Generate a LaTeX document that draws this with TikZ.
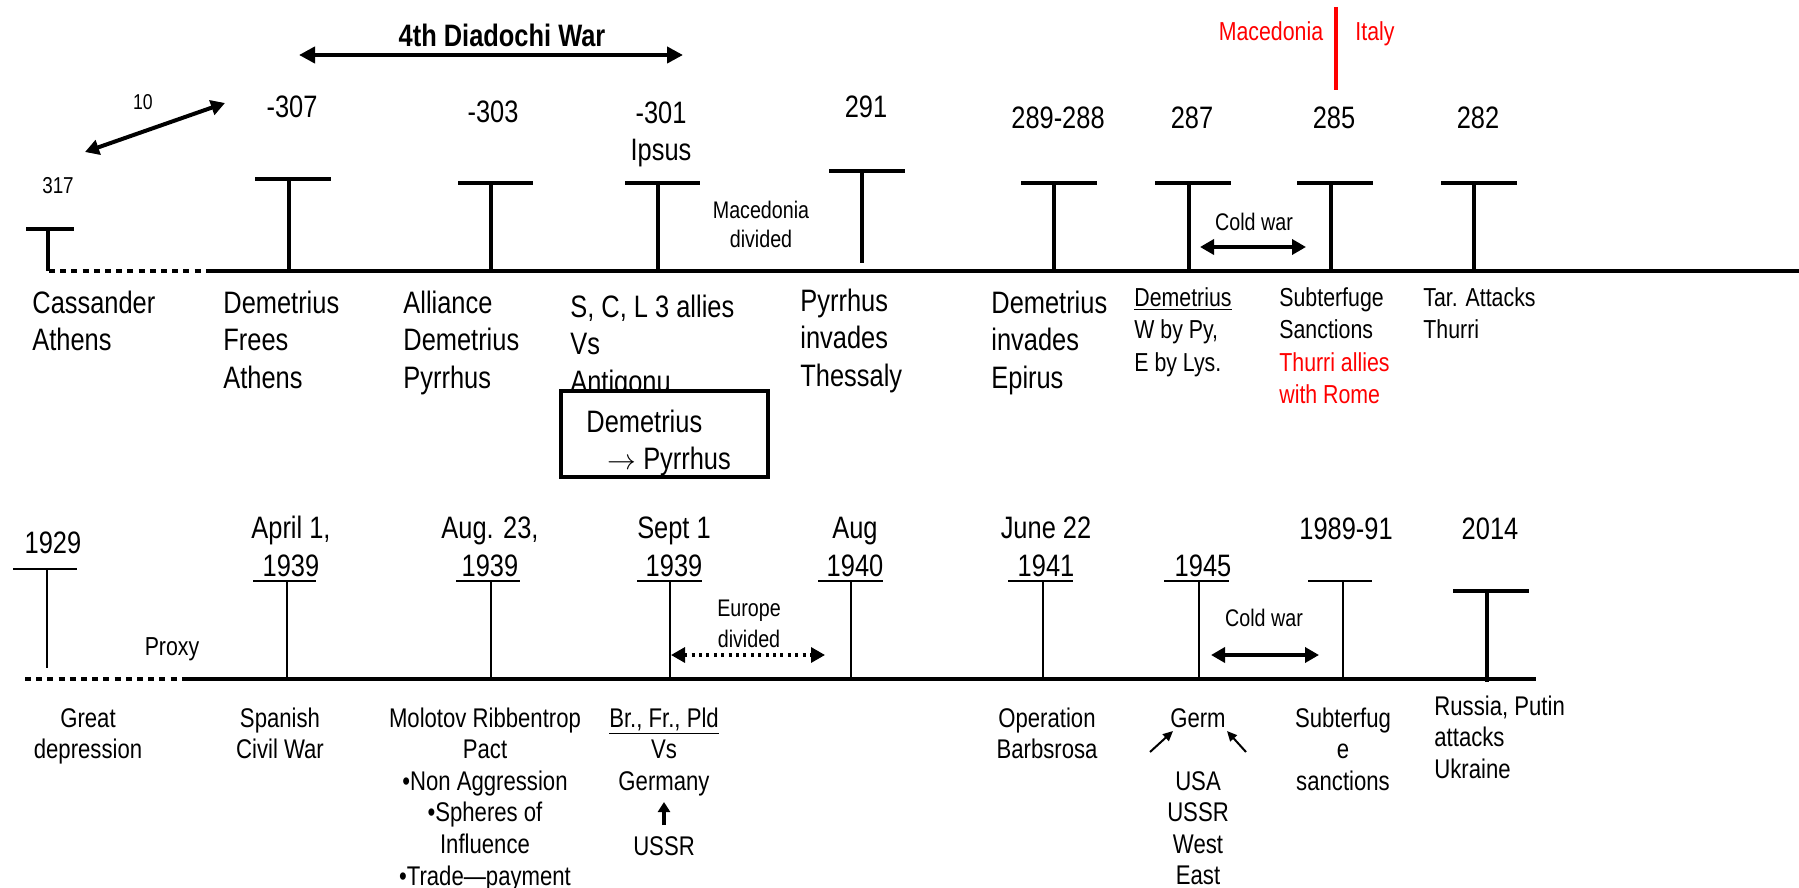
\documentclass[tikz,border=0pt]{standalone}
\usepackage{fontspec}
\setmainfont{Liberation Sans}[FakeStretch=0.82]
\usepackage{tikz}
\usetikzlibrary{arrows.meta}
\tikzset{tbar/.style = {line width = 2.4pt}}
\tikzset{thinbar/.style = {line width = 0.8pt}}
\tikzset{dotline/.style = {line width = 2.4pt, dash pattern = on 3pt off 2.6pt}}
\tikzset{bigtxt/.style = {inner sep = 0, font = \fontsize{15.5}{18.75}\selectfont}}
\tikzset{midtxt/.style = {inner sep = 0, font = \fontsize{13}{16.25}\selectfont}}
\tikzset{lowtxt/.style = {inner sep = 0, align = center, font = \fontsize{13.5}{15.8}\selectfont}}
\tikzset{smalltxt/.style = {inner sep = 0, align = center, font = \fontsize{12}{15.5}\selectfont}}
\tikzset{dbl/.style = {<->, >={Triangle[length = 7pt, width = 7.5pt]}, line width = 2pt}}
\tikzset{sgl/.style = {->, >={Triangle[length = 5pt, width = 4.5pt]}, line width = 1pt}}
\definecolor{mred}{rgb}{1, 0, 0}

\begin{document}
\begin{tikzpicture}[x = 0.5pt, y = -0.5pt]
    \useasboundingbox (0, 0) rectangle (1799, 888);

    \coordinate (topstart) at (49, 271);
    \coordinate (topmid) at (211, 271);
    \coordinate (topend) at (1799, 271);
    \draw [dotline] (topstart) -- (topmid);
    \draw [tbar] (topmid) -- (topend);
    \foreach \n/\x/\y/\l/\r/\b in {a/48/229/26/74/271, b/289/179/255/331/271,
        c/491/183/458/533/271, d/658/183/625/700/271, e/862/171/829/905/263,
        f/1054/183/1021/1097/271, g/1189/183/1155/1231/271,
        h/1331/183/1297/1373/271, i/1474/183/1441/1517/271} {
      \coordinate (cap\n) at (\x, \y);
      \coordinate (foot\n) at (\x, \b);
      \coordinate (capl\n) at (\l, \y);
      \coordinate (capr\n) at (\r, \y);
      \draw [tbar] (capl\n) -- (capr\n);
      \draw [tbar] (cap\n) -- (foot\n);
    }

    \node (diad) [bigtxt, font = \fontsize{15.5}{18.75}\selectfont\bfseries, anchor = base] at (502, 47) {4th Diadochi War};
    \coordinate (diadl) at (299, 55);
    \coordinate (diadr) at (683, 55);
    \draw [dbl, line width = 2.4pt, >={Triangle[length = 8pt, width = 8pt]}] (diadl) -- (diadr);
    \node (ten) [inner sep = 0, font = \fontsize{10.75}{13}\selectfont, anchor = base] at (143, 110) {10};
    \coordinate (tenl) at (85, 152);
    \coordinate (tenr) at (225, 103);
    \draw [dbl] (tenl) -- (tenr);
    \node (y317) [inner sep = 0, font = \fontsize{11.5}{14}\selectfont, anchor = base] at (58, 193) {317};

    \node (y307) [bigtxt, anchor = base] at (292, 118) {-307};
    \node (y303) [bigtxt, anchor = base] at (493, 123) {-303};
    \node (y301) [bigtxt, align = center, anchor = base] at (661, 161) {-301\\Ipsus};
    \node (y291) [bigtxt, anchor = base] at (866, 118) {291};
    \node (y289) [bigtxt, anchor = base] at (1058, 129) {289-288};
    \node (y287) [bigtxt, anchor = base] at (1192, 129) {287};
    \node (y285) [bigtxt, anchor = base] at (1334, 129) {285};
    \node (y282) [bigtxt, anchor = base] at (1478, 129) {282};

    \coordinate (redtop) at (1336, 7);
    \coordinate (redbot) at (1336, 90);
    \draw [mred, line width = 2.3pt] (redtop) -- (redbot);
    \node (macred) [midtxt, text = mred, anchor = base] at (1271, 41) {Macedonia};
    \node (italy) [midtxt, text = mred, anchor = base] at (1375, 41) {Italy};

    \node (macdiv) [smalltxt, font = \fontsize{12}{14.5}\selectfont, anchor = base] at (761, 247.5) {Macedonia\\divided};
    \node (coldtop) [smalltxt, anchor = base] at (1254, 230.5) {Cold war};
    \coordinate (coldl) at (1200, 247);
    \coordinate (coldr) at (1306, 247);
    \draw [dbl] (coldl) -- (coldr);

    \node (cass) [bigtxt, align = left, anchor = base west] at (32, 350.5) {Cassander\\Athens};
    \node (frees) [bigtxt, align = left, anchor = base west] at (223, 388) {Demetrius\\Frees\\Athens};
    \node (alli) [bigtxt, align = left, anchor = base west] at (403, 388) {Alliance\\Demetrius\\Pyrrhus};
    \node (three) [bigtxt, align = left, anchor = base west] at (570, 392) {S, C, L 3 allies\\Vs\\Antigonu};
    \node (thess) [bigtxt, align = left, anchor = base west] at (800, 386) {Pyrrhus\\invades\\Thessaly};
    \node (epir) [bigtxt, align = left, anchor = base west] at (991, 388) {Demetrius\\invades\\Epirus};
    \node (split) [midtxt, align = left, anchor = base west] at (1134, 371) {\underline{Demetrius}\\W by Py,\\E by Lys.};
    \node (subt) [midtxt, align = left, anchor = base west] at (1279, 403.5) {Subterfuge\\Sanctions\\\textcolor{mred}{Thurri allies}\\\textcolor{mred}{with Rome}};
    \node (tar) [midtxt, align = left, anchor = base west] at (1423, 338.5) {Tar. Attacks\\Thurri};

    \node (swap) [draw, line width = 2.2pt, fill = white, minimum width = 103.5pt, minimum height = 43pt, inner sep = 0] at (664.5, 434) {};
    \node (swaptxt) [bigtxt, align = left, anchor = base west] at (586, 469.5) {Demetrius\\\hspace*{10.5pt}$\rightarrow$ Pyrrhus};

    \coordinate (lowstart) at (25, 679);
    \coordinate (lowmid) at (184, 679);
    \coordinate (lowend) at (1536, 679);
    \draw [dotline] (lowstart) -- (lowmid);
    \draw [tbar] (lowmid) -- (lowend);
    \foreach \n/\x/\y/\l/\r/\b in {p/47/569/13/77/668, q/287/581/253/316/679,
        r/491/581/456/520/679, s/670/581/637/702/679, t/851/581/818/883/679,
        u/1043/581/1008/1073/679, v/1199/581/1164/1229/679,
        w/1343/581/1308/1372/679} {
      \coordinate (cap\n) at (\x, \y);
      \coordinate (foot\n) at (\x, \b);
      \coordinate (capl\n) at (\l, \y);
      \coordinate (capr\n) at (\r, \y);
      \draw [thinbar] (capl\n) -- (capr\n);
      \draw [thinbar] (cap\n) -- (foot\n);
    }
    \coordinate (capz) at (1487, 591);
    \coordinate (footz) at (1487, 682);
    \coordinate (caplz) at (1453, 591);
    \coordinate (caprz) at (1529, 591);
    \draw [tbar] (caplz) -- (caprz);
    \draw [tbar] (capz) -- (footz);

    \node (y1929) [bigtxt, anchor = base] at (53, 553) {1929};
    \node (y1939a) [bigtxt, align = center, anchor = base] at (291, 576) {April 1,\\1939};
    \node (y1939b) [bigtxt, align = center, anchor = base] at (490, 576) {Aug. 23,\\1939};
    \node (y1939c) [bigtxt, align = center, anchor = base] at (674, 576) {Sept 1\\1939};
    \node (y1940) [bigtxt, align = center, anchor = base] at (855, 576) {Aug\\1940};
    \node (y1941) [bigtxt, align = center, anchor = base] at (1046, 576) {June 22\\1941};
    \node (y1945) [bigtxt, anchor = base] at (1203, 576) {1945};
    \node (y1989) [bigtxt, anchor = base] at (1346, 539) {1989-91};
    \node (y2014) [bigtxt, anchor = base] at (1490, 539) {2014};

    \node (proxy) [midtxt, anchor = base] at (172, 655) {Proxy};
    \node (europe) [smalltxt, anchor = base] at (749, 647.5) {Europe\\divided};
    \coordinate (eurl) at (671, 655);
    \coordinate (eurr) at (825, 655);
    \draw [dbl, line width = 1.6pt, dash pattern = on 1.5pt off 2.2pt] (eurl) -- (eurr);
    \node (coldlow) [smalltxt, anchor = base] at (1264, 626.5) {Cold war};
    \coordinate (cold2l) at (1211, 655);
    \coordinate (cold2r) at (1319, 655);
    \draw [dbl] (cold2l) -- (cold2r);

    \node (great) [lowtxt, anchor = base] at (88, 758.6) {Great\\depression};
    \node (spain) [lowtxt, anchor = base] at (280, 758.6) {Spanish\\Civil War};
    \node (pact) [lowtxt, anchor = base] at (485, 885) {Molotov Ribbentrop\\Pact\\•Non Aggression\\•Spheres of\\Influence\\•Trade—payment};
    \node (versus) [lowtxt, anchor = base] at (664, 790.2) {\underline{Br., Fr., Pld}\\Vs\\Germany};
    \node (ussr) [lowtxt, anchor = base] at (664, 855) {USSR};
    \coordinate (usa) at (664, 825);
    \coordinate (usb) at (664, 802);
    \draw [sgl, line width = 1.6pt, >={Triangle[length = 5pt, width = 6pt]}] (usa) -- (usb);
    \node (barb) [lowtxt, anchor = base] at (1047, 758.6) {Operation\\Barbsrosa};
    \node (germ) [lowtxt, anchor = base] at (1198, 727) {Germ};
    \coordinate (gla) at (1150, 752);
    \coordinate (glb) at (1173, 731);
    \coordinate (gra) at (1246, 752);
    \coordinate (grb) at (1227, 731);
    \draw [sgl] (gla) -- (glb);
    \draw [sgl] (gra) -- (grb);
    \node (powers) [lowtxt, anchor = base] at (1198, 884.8) {USA\\USSR\\West\\East};
    \node (sanct) [lowtxt, anchor = base] at (1343, 790.2) {Subterfug\\e\\sanctions};
    \node (russia) [lowtxt, align = left, anchor = base west] at (1434, 778.2) {Russia, Putin\\attacks\\Ukraine};
\end{tikzpicture}
\end{document}
